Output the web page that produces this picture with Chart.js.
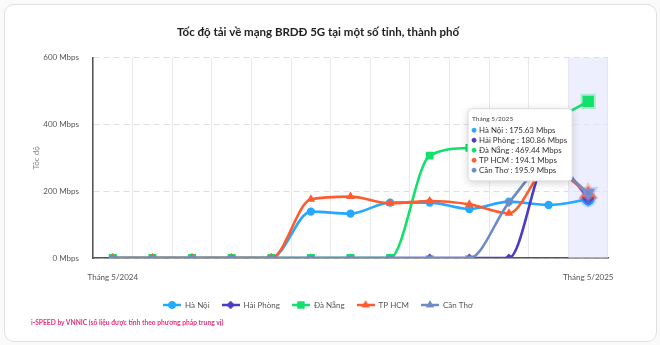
<!DOCTYPE html>
<html>
<head>
<meta charset="utf-8">
<script src="https://cdn.jsdelivr.net/npm/chart.js@4.4.1/dist/chart.umd.min.js"></script>
<style>
  html, body { margin: 0; padding: 0; width: 660px; height: 345px; overflow: hidden; background: #fafafa; font-family: Lato, sans-serif; }
  .card { position: absolute; left: 4px; top: 4px; width: 653px; height: 338px; background: #fff; border: 1px solid #e0e0e0; border-radius: 10px; box-sizing: border-box; }
  #wrap { position: absolute; left: 4px; top: 4px; width: 628px; height: 320px; }
  .note { position: absolute; left: 31px; top: 318px; font-size: 6.7px; font-weight: 700; color: #e8317c; white-space: nowrap; }
</style>
</head>
<body>
<div class="card"></div>
<div id="wrap"><canvas id="c" width="628" height="320"></canvas></div>
<div class="note">i-SPEED by VNNIC (số liệu được tính theo phương pháp trung vị)</div>
<script>
// Months shown on the category axis
const months = ['Tháng 5/2024', 'Tháng 6/2024', 'Tháng 7/2024', 'Tháng 8/2024', 'Tháng 9/2024',
  'Tháng 10/2024', 'Tháng 11/2024', 'Tháng 12/2024', 'Tháng 1/2025', 'Tháng 2/2025',
  'Tháng 3/2025', 'Tháng 4/2025', 'Tháng 5/2025'];

// Median 5G download speed per city (Mbps)
const haNoi    = [0, 0, 0, 0, 0, 139, 133, 166, 166, 147, 169, 159, 175.63];
const haiPhong = [0, 0, 0, 0, 0, 0, 0, 0, 0, 0, 0, 300, 180.86];
const daNang   = [0, 0, 0, 0, 0, 0, 0, 0, 307, 330, 345, 405, 469.44];
const tpHcm    = [0, 0, 0, 0, 0, 176, 184, 164, 171, 161, 134, 270, 194.1];
const canTho   = [0, 0, 0, 0, 0, 0, 0, 0, 0, 0, 166, 280, 195.9];

const cityNames = ['Hà Nội', 'Hải Phòng', 'Đà Nẵng', 'TP HCM', 'Cần Thơ'];
const yTicks = [0, 200, 400, 600];

const FONT = 'Lato';
Chart.defaults.font.family = FONT;
Chart.defaults.color = '#555';

const styles = [
  { color: '#27a8ff', halo: 'rgba(39,168,255,0.3)',  point: 'circle',   radius: 4.2, hover: 6,   rotation: 0 },
  { color: '#4a3cc6', halo: 'rgba(74,60,198,0.3)',   point: 'rectRot',  radius: 4.5, hover: 6.5, rotation: 0 },
  { color: '#12e06a', halo: 'rgba(18,224,106,0.3)',  point: 'rect',     radius: 5.5, hover: 8,   rotation: 0 },
  { color: '#ff5b2e', halo: 'rgba(255,91,46,0.3)',   point: 'triangle', radius: 5,   hover: 7.5, rotation: 0 },
  { color: '#6d8bc6', halo: 'rgba(150,150,230,0.35)', point: 'triangle', radius: 5,  hover: 8,   rotation: 180 }
];
const series = [haNoi, haiPhong, daNang, tpHcm, canTho];

// Small "line + marker" icon used in the legend
function legendIcon(st) {
  const cv = document.createElement('canvas');
  cv.width = 18; cv.height = 10;
  const g = cv.getContext('2d');
  g.strokeStyle = st.color; g.lineWidth = 2.5;
  g.beginPath(); g.moveTo(0, 5); g.lineTo(18, 5); g.stroke();
  g.fillStyle = st.color;
  Chart.helpers.drawPoint(g, { pointStyle: st.point, rotation: st.rotation, radius: st.radius * 0.9, borderWidth: 0 }, 9, 5);
  g.fill();
  return cv;
}
const icons = styles.map(legendIcon);

const datasets = series.map((vals, i) => ({
  label: cityNames[i],
  data: vals,
  borderColor: styles[i].color,
  backgroundColor: styles[i].color,
  pointBackgroundColor: styles[i].color,
  pointBorderColor: styles[i].color,
  pointStyle: styles[i].point,
  rotation: styles[i].rotation,
  pointRadius: styles[i].radius,
  pointBorderWidth: 0,
  pointHoverRadius: styles[i].hover,
  pointHoverBorderWidth: 4,
  pointHoverBorderColor: styles[i].halo,
  pointHoverBackgroundColor: styles[i].color,
  borderWidth: 2.6,
  cubicInterpolationMode: 'monotone',
  fill: false,
  order: series.length - 1 - i
}));

// Shaded column behind the hovered month
const columnBand = {
  id: 'columnBand',
  beforeDatasetsDraw(chart) {
    const act = chart.getActiveElements();
    if (!act.length) return;
    const x = chart.scales.x, area = chart.chartArea, ctx = chart.ctx;
    const half = (x.getPixelForValue(1) - x.getPixelForValue(0)) / 2;
    const cx = x.getPixelForValue(act[0].index);
    ctx.save();
    ctx.fillStyle = 'rgba(226,229,253,0.6)';
    ctx.fillRect(cx - half, area.top, half * 2, area.bottom - area.top);
    ctx.restore();
  }
};

// Soft shadow under the tooltip box
const tooltipShadow = {
  id: 'tooltipShadow',
  beforeTooltipDraw(chart, args) {
    const tt = args.tooltip;
    if (!tt.opacity) return;
    const ctx = chart.ctx;
    ctx.save();
    ctx.shadowColor = 'rgba(0,0,0,0.18)';
    ctx.shadowBlur = 8;
    ctx.shadowOffsetY = 2;
    ctx.fillStyle = '#fff';
    ctx.beginPath();
    ctx.roundRect(tt.x, tt.y, tt.width, tt.height, 4);
    ctx.fill();
    ctx.restore();
  }
};

Chart.Tooltip.positioners.sideLeft = function (items) {
  if (!items.length) return false;
  const area = this.chart.chartArea;
  return { x: items[0].element.x, y: area.top + 87 };
};

const chart = new Chart(document.getElementById('c'), {
  type: 'line',
  data: { labels: months, datasets },
  plugins: [columnBand, tooltipShadow],
  options: {
    responsive: false,
    animation: false,
    events: [],
    layout: { padding: { left: 24, right: 24, top: 0, bottom: 5 } },
    interaction: { mode: 'index', intersect: false },
    plugins: {
      title: {
        display: true,
        text: 'Tốc độ tải về mạng BRDĐ 5G tại một số tỉnh, thành phố',
        color: '#222',
        font: { family: FONT, size: 11.5, weight: 'bold' },
        padding: { top: 21, bottom: 19 }
      },
      legend: {
        position: 'bottom',
        reverse: true,
        labels: {
          usePointStyle: true,
          pointStyleWidth: 18,
          padding: 12,
          color: '#555',
          font: { family: FONT, size: 8 },
          generateLabels(chart) {
            const items = Chart.defaults.plugins.legend.labels.generateLabels(chart);
            items.forEach(it => { it.pointStyle = icons[it.datasetIndex]; it.fontColor = '#555'; });
            return items;
          }
        }
      },
      tooltip: {
        enabled: true,
        position: 'sideLeft',
        xAlign: 'right',
        yAlign: 'center',
        caretSize: 0,
        caretPadding: 16,
        backgroundColor: '#fff',
        borderColor: '#dcdcdc',
        borderWidth: 1,
        cornerRadius: 4,
        titleColor: '#444',
        bodyColor: '#333',
        titleFont: { family: FONT, size: 6.5, weight: 'normal' },
        bodyFont: { family: FONT, size: 7.9 },
        titleMarginBottom: 3,
        bodySpacing: 0.5,
        padding: { top: 6, bottom: 6, left: 4, right: 5 },
        usePointStyle: true,
        boxWidth: 4,
        boxHeight: 4,
        boxPadding: 1,
        itemSort: (a, b) => a.datasetIndex - b.datasetIndex,
        callbacks: {
          label: ctx => `${ctx.dataset.label} : ${ctx.parsed.y} Mbps`,
          labelColor: ctx => ({ borderColor: styles[ctx.datasetIndex].color, backgroundColor: styles[ctx.datasetIndex].color }),
          labelPointStyle: () => ({ pointStyle: 'circle', rotation: 0 })
        }
      }
    },
    scales: {
      x: {
        offset: true,
        afterFit: s => { s.height = 31; },
        grid: { color: '#e9e9e9', lineWidth: 1, drawTicks: false, offset: true },
        border: { color: '#555', width: 1.5 },
        ticks: {
          autoSkip: false,
          maxRotation: 0,
          padding: 15,
          color: '#555',
          font: { family: FONT, size: 8 },
          callback: (v, i) => (i === 0 || i === months.length - 1) ? months[i] : ''
        }
      },
      y: {
        min: yTicks[0],
        max: yTicks[yTicks.length - 1],
        afterBuildTicks: s => { s.ticks = yTicks.map(v => ({ value: v })); },
        afterFit: s => { s.width = 65; },
        grid: { color: '#dedede', lineWidth: 1, drawTicks: false },
        border: { color: '#555', width: 1.5, dash: [6, 4] },
        ticks: {
          padding: 14,
          color: '#555',
          font: { family: FONT, size: 8 },
          callback: v => `${v} Mbps`
        },
        title: {
          display: true,
          text: 'Tốc độ',
          color: '#888',
          font: { family: FONT, size: 8 }
        }
      }
    }
  }
});

const active = datasets.map((d, i) => ({ datasetIndex: i, index: months.length - 1 }));
chart.setActiveElements(active);
const el = chart.getDatasetMeta(0).data[months.length - 1];
chart.tooltip.setActiveElements(active, { x: el.x, y: el.y });
chart.render();
</script>
</body>
</html>
